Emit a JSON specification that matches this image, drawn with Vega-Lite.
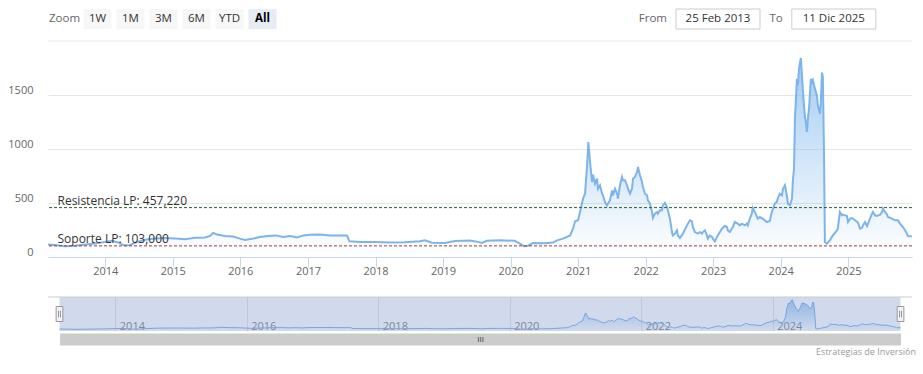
{
  "$schema": "https://vega.github.io/schema/vega-lite/v6.json",
  "background": "white",
  "autosize": {"type": "pad"},
  "padding": {"left": 3, "top": 8, "right": 11, "bottom": 4},
  "spacing": 10,
  "config": {
    "font": "Open Sans",
    "view": {"stroke": null},
    "axis": {"labelFont": "Open Sans", "titleFont": "Open Sans"},
    "title": {"font": "Open Sans"}
  },
  "title": {"text": "Estrategias de Inversión", "orient": "bottom", "anchor": "end", "fontSize": 9, "fontWeight": "normal", "color": "#999999", "offset": 5},
  "datasets": {
    "controls": [
      {"control": "Zoom", "group": "zoom", "kind": "label"},
      {"control": "1W", "group": "zoom", "kind": "button"},
      {"control": "1M", "group": "zoom", "kind": "button"},
      {"control": "3M", "group": "zoom", "kind": "button"},
      {"control": "6M", "group": "zoom", "kind": "button"},
      {"control": "YTD", "group": "zoom", "kind": "button"},
      {"control": "All", "group": "zoom", "kind": "selected"},
      {"control": "From", "group": "range", "kind": "input", "value": "25 Feb 2013"},
      {"control": "To", "group": "range", "kind": "input", "value": "11 Dic 2025"}
    ],
    "levels": [
      {"level": "Resistencia LP", "value": 457.22, "start": "2013-02-25", "label": "Resistencia LP: 457,220"},
      {"level": "Soporte LP", "value": 103, "start": "2013-02-25", "label": "Soporte LP: 103,000"}
    ],
    "series": [
      {"date":"2013-02-25","value":115},{"date":"2013-04-04","value":110},{"date":"2013-05-28","value":100},{"date":"2013-07-21","value":105},
      {"date":"2013-09-14","value":115},{"date":"2013-11-07","value":125},{"date":"2013-12-31","value":140},{"date":"2014-02-06","value":150},
      {"date":"2014-03-11","value":135},{"date":"2014-04-12","value":108},{"date":"2014-05-15","value":112},{"date":"2014-06-22","value":140},
      {"date":"2014-08-04","value":160},{"date":"2014-09-27","value":172},{"date":"2014-11-20","value":175},{"date":"2015-01-13","value":172},
      {"date":"2015-03-08","value":165},{"date":"2015-05-01","value":178},{"date":"2015-06-24","value":180},{"date":"2015-07-21","value":195},
      {"date":"2015-08-07","value":222},{"date":"2015-09-03","value":205},{"date":"2015-10-10","value":195},{"date":"2015-11-23","value":190},
      {"date":"2015-12-30","value":170},{"date":"2016-01-26","value":158},{"date":"2016-03-04","value":168},{"date":"2016-04-16","value":185},
      {"date":"2016-05-30","value":195},{"date":"2016-07-12","value":200},{"date":"2016-08-19","value":185},{"date":"2016-09-26","value":195},
      {"date":"2016-11-03","value":180},{"date":"2016-12-06","value":200},{"date":"2017-01-12","value":205},{"date":"2017-03-07","value":208},
      {"date":"2017-05-01","value":200},{"date":"2017-06-23","value":198},{"date":"2017-07-31","value":200},{"date":"2017-08-13","value":145},
      {"date":"2017-10-09","value":140},{"date":"2017-12-29","value":138},{"date":"2018-03-20","value":135},{"date":"2018-06-09","value":137},
      {"date":"2018-08-29","value":145},{"date":"2018-09-25","value":154},{"date":"2018-11-02","value":132},{"date":"2019-01-11","value":130},
      {"date":"2019-03-06","value":148},{"date":"2019-05-26","value":152},{"date":"2019-07-09","value":140},{"date":"2019-07-30","value":130},
      {"date":"2019-08-26","value":150},{"date":"2019-11-04","value":155},{"date":"2020-01-24","value":150},{"date":"2020-02-20","value":125},
      {"date":"2020-03-14","value":100},{"date":"2020-04-05","value":105},{"date":"2020-05-02","value":130},{"date":"2020-07-06","value":128},
      {"date":"2020-08-18","value":135},{"date":"2020-09-09","value":154},{"date":"2020-10-11","value":170},{"date":"2020-11-18","value":200},
      {"date":"2020-12-04","value":262},{"date":"2020-12-15","value":330},{"date":"2020-12-31","value":340},{"date":"2021-01-11","value":417},
      {"date":"2021-01-27","value":540},{"date":"2021-02-07","value":586},{"date":"2021-02-18","value":849},{"date":"2021-02-25","value":1065},
      {"date":"2021-03-06","value":880},{"date":"2021-03-17","value":694},{"date":"2021-03-22","value":762},{"date":"2021-04-02","value":679},
      {"date":"2021-04-13","value":725},{"date":"2021-04-18","value":632},{"date":"2021-04-29","value":664},{"date":"2021-05-10","value":586},
      {"date":"2021-05-15","value":571},{"date":"2021-05-26","value":509},{"date":"2021-06-06","value":478},{"date":"2021-06-11","value":494},
      {"date":"2021-06-22","value":525},{"date":"2021-07-03","value":617},{"date":"2021-07-08","value":571},{"date":"2021-07-19","value":632},
      {"date":"2021-07-30","value":586},{"date":"2021-08-04","value":540},{"date":"2021-08-15","value":664},{"date":"2021-08-26","value":741},
      {"date":"2021-08-31","value":710},{"date":"2021-09-11","value":710},{"date":"2021-09-22","value":664},{"date":"2021-09-27","value":632},
      {"date":"2021-10-08","value":586},{"date":"2021-10-19","value":632},{"date":"2021-10-24","value":725},{"date":"2021-11-04","value":741},
      {"date":"2021-11-15","value":787},{"date":"2021-11-20","value":833},{"date":"2021-12-01","value":756},{"date":"2021-12-12","value":694},
      {"date":"2021-12-17","value":648},{"date":"2021-12-28","value":586},{"date":"2022-01-08","value":571},{"date":"2022-01-13","value":525},
      {"date":"2022-01-24","value":494},{"date":"2022-02-04","value":417},{"date":"2022-02-09","value":361},{"date":"2022-02-20","value":401},
      {"date":"2022-03-03","value":417},{"date":"2022-03-08","value":401},{"date":"2022-03-19","value":432},{"date":"2022-03-30","value":432},
      {"date":"2022-04-04","value":478},{"date":"2022-04-15","value":502},{"date":"2022-04-26","value":463},{"date":"2022-05-01","value":432},
      {"date":"2022-05-12","value":355},{"date":"2022-05-23","value":231},{"date":"2022-05-28","value":200},{"date":"2022-06-08","value":216},
      {"date":"2022-06-19","value":247},{"date":"2022-06-24","value":200},{"date":"2022-07-05","value":176},{"date":"2022-07-21","value":216},
      {"date":"2022-08-12","value":293},{"date":"2022-08-28","value":340},{"date":"2022-09-08","value":330},{"date":"2022-09-13","value":278},
      {"date":"2022-09-24","value":231},{"date":"2022-10-10","value":216},{"date":"2022-10-21","value":231},{"date":"2022-11-01","value":216},
      {"date":"2022-11-06","value":231},{"date":"2022-11-17","value":247},{"date":"2022-11-28","value":200},{"date":"2022-12-03","value":170},
      {"date":"2022-12-14","value":200},{"date":"2022-12-25","value":185},{"date":"2022-12-30","value":170},{"date":"2023-01-10","value":145},
      {"date":"2023-01-26","value":200},{"date":"2023-02-17","value":262},{"date":"2023-03-05","value":287},{"date":"2023-03-16","value":278},
      {"date":"2023-03-21","value":247},{"date":"2023-04-01","value":231},{"date":"2023-04-17","value":278},{"date":"2023-04-28","value":324},
      {"date":"2023-05-14","value":309},{"date":"2023-05-25","value":293},{"date":"2023-06-05","value":309},{"date":"2023-06-21","value":293},
      {"date":"2023-07-02","value":309},{"date":"2023-07-07","value":293},{"date":"2023-07-18","value":355},{"date":"2023-07-29","value":401},
      {"date":"2023-08-03","value":454},{"date":"2023-08-14","value":417},{"date":"2023-08-30","value":355},{"date":"2023-09-10","value":370},
      {"date":"2023-09-26","value":355},{"date":"2023-10-18","value":324},{"date":"2023-11-03","value":333},{"date":"2023-11-14","value":417},
      {"date":"2023-11-30","value":494},{"date":"2023-12-11","value":509},{"date":"2023-12-16","value":540},{"date":"2023-12-27","value":586},
      {"date":"2024-01-08","value":571},{"date":"2024-01-13","value":630},{"date":"2024-01-24","value":664},{"date":"2024-02-04","value":560},
      {"date":"2024-02-09","value":494},{"date":"2024-02-20","value":478},{"date":"2024-03-02","value":540},{"date":"2024-03-07","value":710},
      {"date":"2024-03-13","value":818},{"date":"2024-03-18","value":1281},{"date":"2024-03-29","value":1651},{"date":"2024-04-03","value":1590},
      {"date":"2024-04-09","value":1744},{"date":"2024-04-19","value":1843},{"date":"2024-04-25","value":1682},{"date":"2024-04-30","value":1540},
      {"date":"2024-05-11","value":1296},{"date":"2024-05-16","value":1250},{"date":"2024-05-22","value":1157},{"date":"2024-05-27","value":1280},
      {"date":"2024-06-02","value":1373},{"date":"2024-06-12","value":1651},{"date":"2024-06-18","value":1620},{"date":"2024-06-23","value":1640},
      {"date":"2024-07-04","value":1559},{"date":"2024-07-15","value":1497},{"date":"2024-07-20","value":1404},{"date":"2024-07-31","value":1327},
      {"date":"2024-08-05","value":1435},{"date":"2024-08-11","value":1707},{"date":"2024-08-16","value":1667},{"date":"2024-08-22","value":972},
      {"date":"2024-08-27","value":139},{"date":"2024-09-07","value":123},{"date":"2024-09-23","value":154},{"date":"2024-10-09","value":200},
      {"date":"2024-10-31","value":247},{"date":"2024-11-05","value":262},{"date":"2024-11-16","value":417},{"date":"2024-11-27","value":386},
      {"date":"2024-12-02","value":393},{"date":"2024-12-24","value":380},{"date":"2024-12-30","value":324},{"date":"2025-01-10","value":355},
      {"date":"2025-01-21","value":360},{"date":"2025-02-06","value":340},{"date":"2025-02-22","value":318},{"date":"2025-03-05","value":262},
      {"date":"2025-03-16","value":270},{"date":"2025-03-21","value":293},{"date":"2025-04-01","value":324},{"date":"2025-04-12","value":287},
      {"date":"2025-04-28","value":355},{"date":"2025-05-09","value":401},{"date":"2025-05-14","value":417},{"date":"2025-05-25","value":386},
      {"date":"2025-06-05","value":380},{"date":"2025-06-10","value":386},{"date":"2025-06-21","value":390},{"date":"2025-07-02","value":417},
      {"date":"2025-07-07","value":448},{"date":"2025-07-18","value":417},{"date":"2025-07-29","value":393},{"date":"2025-08-03","value":370},
      {"date":"2025-08-25","value":355},{"date":"2025-09-10","value":340},{"date":"2025-09-26","value":340},{"date":"2025-10-07","value":309},
      {"date":"2025-10-23","value":278},{"date":"2025-11-03","value":247},{"date":"2025-11-14","value":216},{"date":"2025-11-19","value":194},
      {"date":"2025-12-11","value":191}
    ]
  },
  "vconcat": [
    {
      "hconcat": [
        {
          "width": 231,
          "height": 20,
          "data": {"name": "controls"},
          "transform": [{"filter": "datum.group === 'zoom'"}],
          "encoding": {
            "x": {"field": "control", "type": "nominal", "sort": null, "axis": null,
                  "scale": {"type": "band", "domain": ["Zoom", "1W", "1M", "3M", "6M", "YTD", "All"], "paddingInner": 0, "paddingOuter": 0}}
          },
          "layer": [
            {
              "transform": [{"filter": "datum.kind !== 'label'"}],
              "mark": {"type": "rect", "width": 28},
              "encoding": {
                "fill": {"condition": {"test": "datum.kind === 'selected'", "value": "#e6ebf5"}, "value": "#f7f7f7"}
              }
            },
            {
              "transform": [{"filter": "datum.kind !== 'selected'"}],
              "mark": {"type": "text", "fontSize": 11.5},
              "encoding": {
                "text": {"field": "control"},
                "color": {"condition": {"test": "datum.kind === 'label'", "value": "#666666"}, "value": "#333333"}
              }
            },
            {
              "transform": [{"filter": "datum.kind === 'selected'"}],
              "mark": {"type": "text", "fontSize": 11.5, "fontWeight": "bold", "color": "#000000"},
              "encoding": {"text": {"field": "control"}}
            }
          ]
        },
        {
          "width": 231.6,
          "height": 20,
          "data": {"name": "controls"},
          "transform": [{"filter": "datum.group === 'range'"}],
          "encoding": {
            "x": {"field": "control", "type": "nominal", "sort": null, "axis": null,
                  "scale": {"type": "band", "domain": ["From", "To"], "paddingInner": 0, "paddingOuter": 0}}
          },
          "layer": [
            {
              "mark": {"type": "rect", "width": 84, "fill": "#ffffff", "stroke": "#cccccc", "strokeWidth": 1}
            },
            {
              "mark": {"type": "text", "fontSize": 11.5, "color": "#333333"},
              "encoding": {"text": {"field": "value"}}
            },
            {
              "mark": {"type": "text", "fontSize": 11.5, "color": "#666666", "align": "right", "dx": -51},
              "encoding": {"text": {"field": "control"}}
            }
          ]
        }
      ],
      "spacing": 381.1,
      "bounds": "flush"
    },
    {
      "width": 864,
      "height": 216,
      "layer": [
        {
          "data": {"name": "series"},
          "mark": {
            "type": "area",
            "color": {"gradient": "linear", "x1": 0, "y1": 0, "x2": 0, "y2": 1,
                      "stops": [{"offset": 0, "color": "rgba(124,181,236,1)"}, {"offset": 1, "color": "rgba(124,181,236,0)"}]},
            "line": {"color": "#7cb5ec", "strokeWidth": 2}
          },
          "encoding": {
            "x": {"field": "date", "type": "temporal",
                  "scale": {"type": "utc", "domain": [{"year": 2013, "month": 2, "date": 25, "utc": true}, {"year": 2025, "month": 12, "date": 11, "utc": true}]},
                  "axis": {"title": null, "format": "%Y", "tickCount": {"interval": "year", "step": 1}, "grid": false,
                           "domainColor": "#ccd6eb", "tickColor": "#ccd6eb", "tickSize": 10, "labelColor": "#666666", "labelFontSize": 11,
                           "labelPadding": 7, "labelBaseline": "alphabetic", "labelFlush": false, "labelOverlap": false,
                           "minExtent": 28.5, "maxExtent": 28.5}},
            "y": {"field": "value", "type": "quantitative", "scale": {"domain": [0, 2000]},
                  "axis": {"title": null, "values": [0, 500, 1000, 1500], "format": "d", "grid": true, "gridColor": "#e6e6e6", "domain": false, "ticks": false,
                           "labelColor": "#666666", "labelFontSize": 11, "labelPadding": 15, "labelBaseline": "alphabetic", "labelOffset": -1.5,
                           "minExtent": 45, "maxExtent": 45}}
          }
        },
        {
          "data": {"name": "levels"},
          "transform": [{"aggregate": [{"op": "count", "as": "n"}]}],
          "mark": {"type": "rule", "color": "#e6e6e6", "strokeWidth": 1},
          "encoding": {"y": {"datum": 2000}}
        },
        {
          "data": {"name": "levels"},
          "mark": {"type": "rule", "strokeDash": [3, 2], "strokeWidth": 1},
          "encoding": {
            "y": {"field": "value", "type": "quantitative"},
            "color": {"field": "level", "type": "nominal", "legend": null,
                      "scale": {"domain": ["Resistencia LP", "Soporte LP"], "range": ["#2d5e2d", "#a83a3a"]}}
          }
        },
        {
          "data": {"name": "levels"},
          "mark": {"type": "text", "align": "left", "baseline": "alphabetic", "dx": 9.5, "dy": -3, "fontSize": 12, "color": "#333333"},
          "encoding": {
            "x": {"field": "start", "type": "temporal"},
            "y": {"field": "value", "type": "quantitative"},
            "text": {"field": "label"}
          }
        }
      ]
    },
    {
      "width": 864,
      "height": 34,
      "layer": [
        {
          "data": {"name": "series"},
          "mark": {
            "type": "area",
            "color": {"gradient": "linear", "x1": 0, "y1": 0, "x2": 0, "y2": 1,
                      "stops": [{"offset": 0, "color": "rgba(124,181,236,1)"}, {"offset": 1, "color": "rgba(124,181,236,0)"}]},
            "line": {"color": "#7cb5ec", "strokeWidth": 1}
          },
          "encoding": {
            "x": {"field": "date", "type": "temporal",
                  "scale": {"type": "utc", "range": [11.5, 852.5],
                            "domain": [{"year": 2013, "month": 2, "date": 25, "utc": true}, {"year": 2025, "month": 12, "date": 11, "utc": true}]},
                  "axis": {"orient": "bottom", "offset": 8, "format": "%Y", "tickCount": {"interval": "year", "step": 2},
                           "domain": true, "domainColor": "#cccccc", "domainWidth": 12, "ticks": false,
                           "grid": true, "gridColor": "#e6e6e6",
                           "labelAlign": "left", "labelOffset": 4, "labelPadding": -10, "labelBaseline": "alphabetic",
                           "labelColor": "#888888", "labelFontSize": 11, "labelFlush": false, "labelOverlap": false,
                           "title": "III", "titleFontSize": 8, "titleColor": "#333333", "titleFontWeight": "normal",
                           "titleBaseline": "middle", "titlePadding": 0, "minExtent": 0, "maxExtent": 0}},
            "y": {"field": "value", "type": "quantitative", "scale": {"domain": [50, 2000], "zero": false},
                  "axis": {"title": null, "labels": false, "ticks": false, "domain": false, "grid": false, "minExtent": 45, "maxExtent": 45}}
          }
        },
        {
          "data": {"name": "series"},
          "transform": [{"aggregate": [{"op": "min", "field": "date", "as": "start"}, {"op": "max", "field": "date", "as": "end"}]}],
          "mark": {"type": "rect", "fill": "#6685c2", "fillOpacity": 0.3},
          "encoding": {"x": {"field": "start", "type": "temporal"}, "x2": {"field": "end"}}
        },
        {
          "data": {"name": "series"},
          "transform": [{"aggregate": [{"op": "count", "as": "n"}]}],
          "mark": {"type": "rule", "color": "#cccccc", "strokeWidth": 1},
          "encoding": {"y": {"datum": 2000}}
        },
        {
          "data": {"name": "series"},
          "transform": [
            {"aggregate": [{"op": "min", "field": "date", "as": "start"}, {"op": "max", "field": "date", "as": "end"}]},
            {"fold": ["start", "end"], "as": ["edge", "edgeDate"]}
          ],
          "mark": {"type": "point", "shape": "M-0.45,-1L0.45,-1L0.45,1L-0.45,1Z M-0.13,-0.45L-0.13,0.45 M0.13,-0.45L0.13,0.45",
                   "size": 225, "filled": true, "fill": "#f2f2f2", "stroke": "#999999", "strokeWidth": 1, "opacity": 1},
          "encoding": {"x": {"field": "edgeDate", "type": "temporal"}}
        }
      ]
    }
  ]
}
